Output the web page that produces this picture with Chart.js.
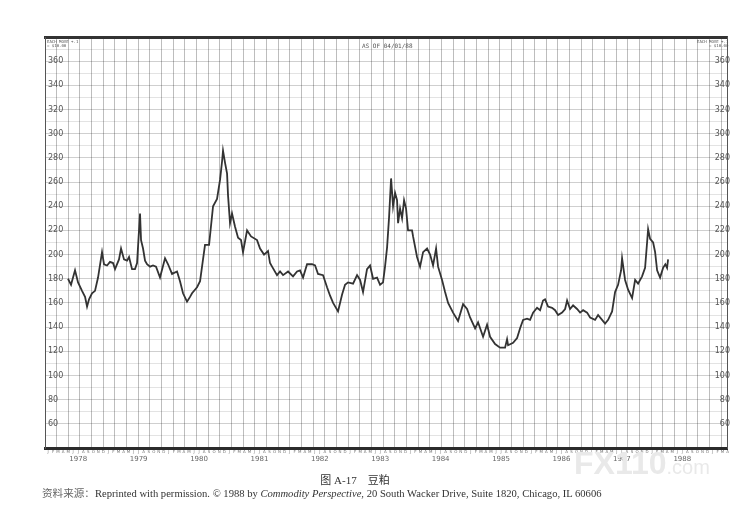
<!DOCTYPE html>
<html lang="zh">
<head>
<meta charset="utf-8">
<title>图 A-17 豆粕</title>
<script src="https://cdn.jsdelivr.net/npm/chart.js@4.4.1/dist/chart.umd.min.js"></script>
<style>
  html, body { margin: 0; padding: 0; background: #fff; }
  #wrap { position: relative; width: 754px; height: 518px; overflow: hidden; }
  #chart { position: absolute; left: 0; top: 0; }
  .tag { position: absolute; font-family: "DejaVu Sans Mono", monospace; color: #555; white-space: nowrap; line-height: 1; }
  #title { position: absolute; left: 0; width: 710px; top: 471px; text-align: center;
           font: 11px "Liberation Serif", "Noto Sans CJK SC", serif; color: #333; }
  #source { position: absolute; left: 42px; top: 485px; white-space: nowrap;
            font: 10.6px "Liberation Serif", serif; color: #333; }
  #source .cn { font-family: "Noto Sans CJK SC", sans-serif; color: #666; }
  #mark { position: absolute; left: 574px; top: 445px; white-space: nowrap; color: #e9e9e9;
          font: bold 32px "Liberation Sans", sans-serif; }
  #mark span { font-size: 20px; font-weight: normal; }
</style>
</head>
<body>
<div id="wrap">
  <canvas id="chart" width="754" height="518"></canvas>
  <div class="tag" style="left:47px;top:40px;font-size:4px;">EACH MOVE +.1<br>= $10.00</div>
  <div class="tag" style="left:697px;top:40px;font-size:4px;text-align:right;">EACH MOVE +.1<br>= $10.00</div>
  <div class="tag" style="left:362px;top:43px;font-size:6px;">AS OF 04/01/88</div>
  <div id="title">图 A-17　豆粕</div>
  <div id="source"><span class="cn">资料来源：</span>Reprinted with permission. © 1988 by <i>Commodity Perspective</i>, 20 South Wacker Drive, Suite 1820, Chicago, IL 60606</div>
  <div id="mark">FX110<span>.com</span></div>
</div>
<script>
// 豆粕价格, 日期用小数年表示
const dates = [
  1978.331, 1978.381, 1978.447, 1978.497, 1978.563, 1978.613, 1978.646, 1978.679, 1978.728, 1978.778,
  1978.828, 1978.894, 1978.927, 1978.977, 1979.026, 1979.076, 1979.109, 1979.175, 1979.209, 1979.258,
  1979.308, 1979.341, 1979.391, 1979.440, 1979.474, 1979.523, 1979.540, 1979.573, 1979.606, 1979.639,
  1979.689, 1979.738, 1979.788, 1979.854, 1979.937, 1979.987, 1980.053, 1980.136, 1980.185, 1980.235,
  1980.301, 1980.351, 1980.384, 1980.467, 1980.517, 1980.566, 1980.599, 1980.666, 1980.732, 1980.798,
  1980.848, 1980.881, 1980.897, 1980.930, 1980.964, 1980.980, 1981.013, 1981.046, 1981.096, 1981.146,
  1981.195, 1981.228, 1981.295, 1981.361, 1981.460, 1981.510, 1981.576, 1981.642, 1981.675, 1981.709,
  1981.791, 1981.841, 1981.891, 1981.974, 1982.056, 1982.123, 1982.172, 1982.222, 1982.288, 1982.371,
  1982.421, 1982.470, 1982.553, 1982.619, 1982.669, 1982.719, 1982.801, 1982.868, 1982.917, 1982.967,
  1983.050, 1983.116, 1983.166, 1983.215, 1983.281, 1983.331, 1983.381, 1983.447, 1983.497, 1983.546,
  1983.579, 1983.613, 1983.646, 1983.679, 1983.712, 1983.745, 1983.778, 1983.795, 1983.828, 1983.861,
  1983.894, 1983.927, 1983.960, 1984.026, 1984.043, 1984.109, 1984.159, 1984.209, 1984.275, 1984.325,
  1984.374, 1984.424, 1984.457, 1984.523, 1984.573, 1984.623, 1984.705, 1984.788, 1984.871, 1984.937,
  1984.987, 1985.070, 1985.119, 1985.202, 1985.268, 1985.318, 1985.401, 1985.483, 1985.566, 1985.599,
  1985.616, 1985.699, 1985.765, 1985.815, 1985.864, 1985.930, 1985.980, 1986.030, 1986.096, 1986.146,
  1986.195, 1986.228, 1986.278, 1986.344, 1986.394, 1986.444, 1986.510, 1986.560, 1986.593, 1986.642,
  1986.692, 1986.758, 1986.808, 1986.858, 1986.924, 1986.974, 1987.056, 1987.106, 1987.172, 1987.222,
  1987.272, 1987.338, 1987.387, 1987.437, 1987.487, 1987.503, 1987.553, 1987.603, 1987.669, 1987.719,
  1987.768, 1987.834, 1987.884, 1987.917, 1987.934, 1987.967, 1988.017, 1988.050, 1988.083, 1988.132,
  1988.182, 1988.219, 1988.248, 1988.265
];
const prices = [
  180, 175, 187, 177, 170, 165, 157, 163, 168, 170,
  181, 202, 192, 191, 194, 193, 188, 196, 205, 196,
  195, 198, 188, 188, 193, 234, 212, 205, 195, 192,
  190, 191, 190, 181, 197, 192, 184, 186, 178, 168,
  161, 165, 168, 173, 178, 196, 208, 208, 240, 246,
  262, 277, 286, 276, 267, 249, 226, 234, 223, 214,
  212, 202, 220, 215, 212, 205, 200, 203, 193, 190,
  183, 186, 183, 186, 182, 186, 187, 181, 192, 192,
  191, 184, 183, 173, 166, 160, 153, 167, 175, 177,
  176, 183, 179, 169, 188, 191, 180, 181, 175, 177,
  190, 206, 231, 263, 240, 251, 245, 226, 238, 230,
  245, 238, 220, 220, 215, 198, 190, 202, 205, 200,
  191, 205, 190, 179, 169, 160, 152, 145, 159, 155,
  148, 139, 144, 132, 142, 132, 126, 123, 123, 130,
  125, 127, 131, 139, 146, 147, 146, 152, 156, 154,
  162, 163, 157, 156, 154, 150, 152, 155, 162, 155,
  158, 155, 152, 154, 152, 148, 146, 150, 146, 143,
  146, 153, 169, 175, 187, 197, 179, 171, 164, 179,
  176, 182, 189, 210, 221, 213, 210, 202, 187, 181,
  189, 192, 189, 196
];

const yearLabels = [1978, 1979, 1980, 1981, 1982, 1983, 1984, 1985, 1986, 1987, 1988];
const monthLetters = ["J", "F", "M", "A", "M", "J", "J", "A", "S", "O", "N", "D"];
const priceTicks = [60, 80, 100, 120, 140, 160, 180, 200, 220, 240, 260, 280, 300, 320, 340, 360];

const X_MIN = 1977.95, X_MAX = 1989.24;
const Y_MIN = 40, Y_MAX = 380;
const GRID_STEP = 0.193; // 图纸竖线间距 (约10周)

const tickFont = { family: "DejaVu Sans", size: 8 };

function priceLabel(v) {
  return priceTicks.includes(v) ? String(v) : "";
}

const points = dates.map((d, i) => ({ x: d, y: prices[i] }));

new Chart(document.getElementById("chart"), {
  type: "line",
  data: {
    datasets: [{
      data: points,
      borderColor: "#333",
      borderWidth: 1.8,
      pointRadius: 0,
      tension: 0
    }]
  },
  options: {
    responsive: false,
    animation: false,
    layout: { padding: { left: 45, right: 27, top: 37, bottom: 54 } },
    plugins: { legend: { display: false }, tooltip: { enabled: false } },
    scales: {
      x: {
        type: "linear", position: "bottom", min: X_MIN, max: X_MAX,
        afterBuildTicks: s => {
          const t = [];
          for (let m = 0; m < 136; m++) t.push({ value: 1978 + m / 12 });
          s.ticks = t;
        },
        afterFit: s => { s.height = 6; },
        grid: { display: false, drawTicks: false },
        border: { display: true, width: 3, color: "#2b2b2b" },
        ticks: {
          autoSkip: false, maxRotation: 0, minRotation: 0, padding: 2,
          font: { family: "DejaVu Sans", size: 4 }, color: "#777",
          callback: v => monthLetters[((Math.round((v - 1978) * 12) % 12) + 12) % 12]
        }
      },
      xYear: {
        type: "linear", position: "bottom", min: X_MIN, max: X_MAX,
        afterBuildTicks: s => { s.ticks = yearLabels.map(y => ({ value: y + 0.5 })); },
        afterFit: s => { s.height = 10; },
        grid: { display: false, drawTicks: false },
        border: { display: false },
        ticks: {
          autoSkip: false, maxRotation: 0, minRotation: 0, padding: 1,
          font: { family: "DejaVu Sans", size: 7 }, color: "#666",
          callback: v => String(Math.round(v - 0.5))
        }
      },
      xTop: {
        type: "linear", position: "top", min: X_MIN, max: X_MAX,
        afterBuildTicks: s => {
          const t = [];
          for (let v = X_MIN + GRID_STEP; v < X_MAX; v += GRID_STEP) t.push({ value: v });
          s.ticks = t;
        },
        afterFit: s => { s.height = 0; },
        grid: { display: true, drawTicks: false, color: "rgba(0,0,0,0.33)", lineWidth: 0.8 },
        border: { display: true, width: 3, color: "#333" },
        ticks: { display: false }
      },
      y: {
        type: "linear", position: "left", min: Y_MIN, max: Y_MAX,
        afterBuildTicks: s => {
          const t = [];
          for (let v = Y_MIN; v <= Y_MAX; v += 10) t.push({ value: v });
          s.ticks = t;
        },
        afterFit: s => { s.width = 0; },
        grid: {
          drawTicks: false, lineWidth: 0.8,
          color: c => (c.tick && c.tick.value % 20 === 0) ? "rgba(0,0,0,0.24)" : "rgba(0,0,0,0.14)"
        },
        border: { display: true, width: 1, color: "#555" },
        ticks: { mirror: true, padding: 3, font: tickFont, color: "#555", autoSkip: false, callback: priceLabel }
      },
      yRight: {
        type: "linear", position: "right", min: Y_MIN, max: Y_MAX,
        afterBuildTicks: s => { s.ticks = priceTicks.map(v => ({ value: v })); },
        afterFit: s => { s.width = 0; },
        grid: { drawOnChartArea: false, drawTicks: false },
        border: { display: true, width: 1, color: "#555" },
        ticks: { mirror: true, padding: 3, font: tickFont, color: "#555", autoSkip: false, callback: priceLabel }
      }
    }
  }
});
</script>
</body>
</html>
